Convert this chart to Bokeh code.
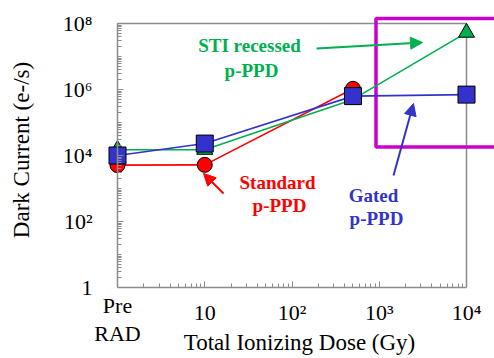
from bokeh.plotting import figure
from bokeh.models import (FixedTicker, Arrow, NormalHead, Range1d, LogAxis)
from bokeh.core.properties import value
from bokeh.embed import file_html
from bokeh.resources import INLINE

# ---- data ----
doses = [1, 10, 500, 10000]          # 1 stands for "Pre RAD"
standard = [5.1e3, 5.2e3, 1.05e6]     # Standard p-PPD (no 1e4 Gy point)
sti = [1.5e4, 1.5e4, 5.0e5, 5.3e7]    # STI recessed p-PPD
gated = [1.0e4, 2.3e4, 6.3e5, 7.0e5]  # Gated p-PPD

x_ticks = [1, 10, 100, 1000, 10000]
x_tick_labels = ["Pre\nRAD", "10", "10²", "10³", "10⁴"]
y_ticks = [1, 100, 10000, 1000000, 100000000]
y_tick_labels = ["1", "10²", "10⁴", "10⁶", "10⁸"]

RED = "#ff0000"
GREEN = "#00b050"
BLUE = "#3333cc"
MAGENTA = "#cc00cc"
AXIS = "#8c8c8c"
SERIF = "Liberation Serif"

# pixel -> data helpers for annotation placement
X0, DXP, Y0, DYP = 117.0, 87.25, 287.0, 33.0
def dx(px):
    return 10 ** ((px - X0) / DXP)
def dy(py):
    return 10 ** ((Y0 - py) / DYP)

p = figure(width=494, height=358, x_axis_type="log", y_axis_type="log",
           x_range=Range1d(dx(104), dx(494)), y_range=Range1d(dy(287), dy(12)),
           output_backend="svg", toolbar_location=None,
           min_border_left=104, min_border_right=0, min_border_top=12,
           min_border_bottom=71)
p.outline_line_color = None
p.grid.visible = False
p.background_fill_color = "white"
p.border_fill_color = "white"

x_minor = [k * 10 ** d for d in range(0, 4) for k in range(2, 10)]
y_minor = [k * 10 ** d for d in range(0, 8) for k in range(2, 11)]

def style_labels(ax, size="22px"):
    ax.major_label_text_font = SERIF
    ax.major_label_text_font_size = size
    ax.major_label_text_color = "black"

def hide_rule(ax):
    ax.axis_line_color = None
    ax.major_tick_line_color = None
    ax.minor_tick_line_color = None
    ax.major_tick_in = 0
    ax.major_tick_out = 0
    ax.minor_tick_in = 0
    ax.minor_tick_out = 0

def show_rule(ax):
    ax.axis_line_color = AXIS
    ax.axis_line_width = 1.5
    ax.major_tick_line_color = AXIS
    ax.minor_tick_line_color = AXIS
    ax.major_tick_in = 6
    ax.major_tick_out = 0
    ax.minor_tick_in = 4
    ax.minor_tick_out = 0

def style_title(ax, text, standoff):
    ax.axis_label = text
    ax.axis_label_text_font = SERIF
    ax.axis_label_text_font_size = "23px"
    ax.axis_label_text_font_style = "normal"
    ax.axis_label_text_color = "black"
    ax.axis_label_standoff = standoff

# x axis: rule, ticks and numeric labels
xa = p.xaxis[0]
xa.ticker = FixedTicker(ticks=x_ticks, minor_ticks=x_minor)
xa.major_label_overrides = dict(zip(x_ticks, [""] + x_tick_labels[1:]))
xa.bounds = (1, 10000)
show_rule(xa)
style_labels(xa)
xa.major_label_standoff = 12

# second bottom axis: "Pre RAD" label + title
xa2 = LogAxis(ticker=FixedTicker(ticks=x_ticks[:1], minor_ticks=[]),
              major_label_overrides={x_ticks[0]: x_tick_labels[0]},
              bounds=(1, 10000))
hide_rule(xa2)
style_labels(xa2)
xa2.major_label_text_line_height = 1.15
xa2.major_label_standoff = -35
style_title(xa2, "Total Ionizing Dose (Gy)", -19)
p.add_layout(xa2, "below")

# y axis labels (at frame edge)
ya = p.yaxis[0]
ya.ticker = FixedTicker(ticks=y_ticks, minor_ticks=[])
ya.major_label_overrides = dict(zip(y_ticks, y_tick_labels))
hide_rule(ya)
style_labels(ya)
ya.major_label_standoff = 12

# y axis rule + ticks pinned at x = 1 (Pre RAD)
ya2 = LogAxis(ticker=FixedTicker(ticks=y_ticks, minor_ticks=y_minor),
              major_label_overrides={t: "" for t in y_ticks},
              major_label_text_font_size="0px", fixed_location=1,
              bounds=(1, 1e8), major_label_standoff=0)
show_rule(ya2)
p.add_layout(ya2, "left")

# y title axis
ya3 = LogAxis(ticker=FixedTicker(ticks=[], minor_ticks=[]),
              major_label_text_font_size="0px", major_label_standoff=0)
hide_rule(ya3)
style_title(ya3, "Dark Current (e-/s)", 26)
p.add_layout(ya3, "left")

# frame top & right lines
p.segment(x0=[1, 10000], y0=[1e8, 1], x1=[10000, 10000], y1=[1e8, 1e8],
          line_color=AXIS, line_width=1.5)

# highlight box
p.quad(left=[dx(375.5)], right=[dx(520)], bottom=[dy(146.5)], top=[dy(18)],
       fill_color=None, line_color=MAGENTA, line_width=3.5)

# series lines
p.line(doses[:3], standard, line_color=RED, line_width=1.6)
p.line(doses, sti, line_color=GREEN, line_width=1.6)
p.line(doses, gated, line_color=BLUE, line_width=1.6)
# markers
p.scatter(doses[:3], standard, marker="circle", size=15, fill_color=RED,
          line_color="black", line_width=1)
p.scatter(doses, sti, marker="triangle", size=16, fill_color=GREEN,
          line_color="black", line_width=1)
p.scatter(doses, gated, marker="square", size=17, fill_color=BLUE,
          line_color="black", line_width=1)

# arrows
for (x0, y0, x1, y1, c) in [(316, 48, 422, 42, GREEN),
                             (223, 193, 203, 173, RED),
                             (393, 175, 413, 103, BLUE)]:
    p.add_layout(Arrow(end=NormalHead(size=12, fill_color=c, line_color=c),
                       x_start=dx(x0), y_start=dy(y0), x_end=dx(x1), y_end=dy(y1),
                       line_color=c, line_width=2))

# annotation texts (glyphs, inside the frame)
def lab(text, px, py, color):
    p.text(x=[dx(px)], y=[dy(py)], text=[text], text_align="center",
           text_baseline="middle", text_color=color,
           text_font=value(SERIF), text_font_size="19px", text_font_style="bold")

lab("STI recessed", 249, 45, GREEN)
lab("p-PPD", 251, 70, GREEN)
lab("Standard", 277, 182, RED)
lab("p-PPD", 279, 205, RED)
lab("Gated", 373, 195, BLUE)
lab("p-PPD", 376, 218, BLUE)

open("out.html", "w").write(file_html(p, INLINE))
